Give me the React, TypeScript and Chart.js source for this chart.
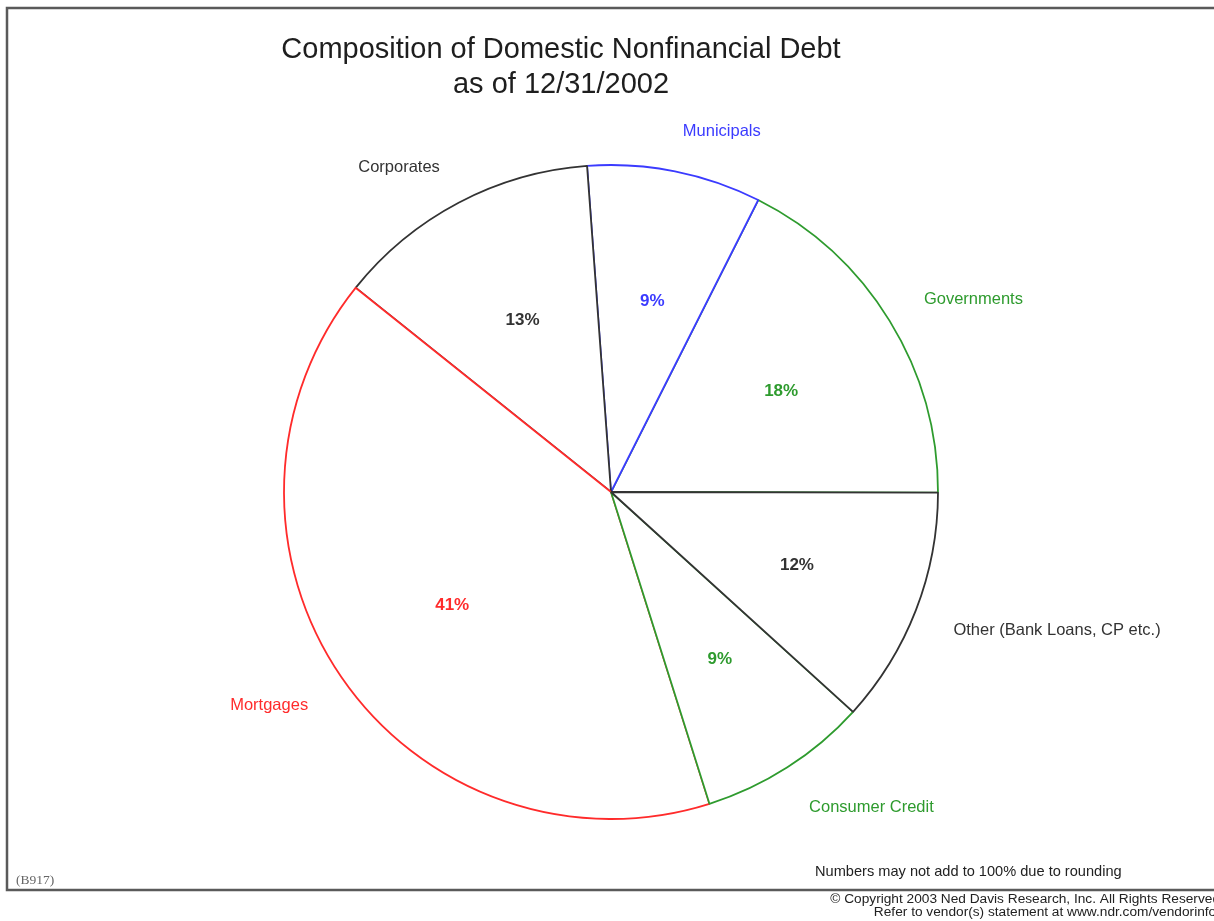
import React, { useEffect, useRef } from 'react';
import { Chart, registerables } from 'chart.js';

Chart.register(...registerables);

// ---- data ----
const categories = [
  'Municipals',
  'Governments',
  'Other (Bank Loans, CP etc.)',
  'Consumer Credit',
  'Mortgages',
  'Corporates',
];
const shares = [8.6, 17.6, 11.7, 8.4, 40.6, 13.1];
const percentLabels = ['9%', '18%', '12%', '9%', '41%', '13%'];
const sliceColors = ['#3b3bff', '#2e9b2e', '#333333', '#2e9b2e', '#ff2b2b', '#333333'];
// order in which slice outlines are painted (later ones sit on top)
const drawOrder = [1, 0, 5, 4, 3, 2];
const titleLines = ['Composition of Domestic Nonfinancial Debt', 'as of 12/31/2002'];
const footnote = 'Numbers may not add to 100% due to rounding';
const chartCode = '(B917)';
const copyrightLines = [
  '\u00A9 Copyright 2003 Ned Davis Research, Inc. All Rights Reserved',
  'Refer to vendor(s) statement at www.ndr.com/vendorinfo/',
];

const SANS = '"Liberation Sans", Arial, Helvetica, sans-serif';
const SERIF = '"Liberation Serif", "Times New Roman", serif';

const ndrPlugin = {
  id: 'ndrDecor',
  beforeDraw(chart: any) {
    const ctx = chart.ctx as CanvasRenderingContext2D;
    ctx.save();
    ctx.fillStyle = '#ffffff';
    ctx.fillRect(0, 0, chart.width, chart.height);
    ctx.strokeStyle = '#5a5a5a';
    ctx.lineWidth = 2.5;
    ctx.strokeRect(7, 8, chart.width + 20, 882);
    ctx.restore();
  },
  beforeDatasetDraw() {
    return false;
  },
  afterDatasetsDraw(chart: any) {
    const ctx = chart.ctx as CanvasRenderingContext2D;
    const meta = chart.getDatasetMeta(0);
    drawOrder.forEach((i) => {
      const el = meta.data[i];
      if (el) el.draw(ctx, chart.chartArea);
    });
    ctx.save();
    ctx.textBaseline = 'middle';
    meta.data.forEach((el: any, i: number) => {
      const { x, y, startAngle, endAngle, outerRadius } = el.getProps(
        ['x', 'y', 'startAngle', 'endAngle', 'outerRadius'],
        true
      );
      const mid = (startAngle + endAngle) / 2;
      const c = Math.cos(mid);
      const s = Math.sin(mid);
      ctx.fillStyle = sliceColors[i];
      // percentage inside
      ctx.font = 'bold 17px ' + SANS;
      ctx.textAlign = 'center';
      ctx.fillText(
        percentLabels[i],
        x + c * outerRadius * 0.6 + 3,
        y + s * outerRadius * 0.6 + 2
      );
      // category outside
      ctx.font = '16.5px ' + SANS;
      ctx.textAlign = c >= 0 ? 'left' : 'right';
      const r = outerRadius * 1.123;
      ctx.fillText(categories[i], x + c * r, y + s * r + (s > 0 ? 6 : 0));
    });
    ctx.restore();
  },
  afterDraw(chart: any) {
    const ctx = chart.ctx as CanvasRenderingContext2D;
    ctx.save();
    ctx.textBaseline = 'middle';
    ctx.fillStyle = '#1e1e1e';
    ctx.textAlign = 'center';
    ctx.font = '29px ' + SANS;
    ctx.fillText(titleLines[0], 561, 50);
    ctx.fillText(titleLines[1], 561, 85);

    ctx.textAlign = 'left';
    ctx.font = '14.6px ' + SANS;
    ctx.fillStyle = '#222222';
    ctx.fillText(footnote, 815, 872);

    ctx.font = '13.5px ' + SERIF;
    ctx.fillStyle = '#666666';
    ctx.fillText(chartCode, 16, 880);

    ctx.textAlign = 'right';
    ctx.font = '13.7px ' + SANS;
    ctx.fillStyle = '#222222';
    ctx.fillText(copyrightLines[0], 1220, 899);
    ctx.fillText(copyrightLines[1], 1220, 912);
    ctx.restore();
  },
};

export default function App() {
  const canvasRef = useRef<HTMLCanvasElement | null>(null);

  useEffect(() => {
    if (!canvasRef.current) return;
    const chart = new Chart(canvasRef.current, {
      type: 'pie',
      data: {
        labels: categories,
        datasets: [
          {
            data: shares,
            backgroundColor: '#ffffff',
            borderColor: sliceColors,
            borderWidth: 1.8,
          },
        ],
      },
      options: {
        responsive: false,
        animation: false,
        rotation: -4.2,
        radius: 327,
        events: [],
        layout: { padding: { left: 108, right: 100, top: 113, bottom: 50 } },
        plugins: {
          legend: { display: false },
          tooltip: { enabled: false },
          title: { display: false },
        },
      } as any,
      plugins: [ndrPlugin as any],
    });
    return () => chart.destroy();
  }, []);

  return (
    <div style={{ position: 'fixed', left: 0, top: 0, width: 1214, height: 921, background: '#fff' }}>
      <canvas ref={canvasRef} width={1214} height={921} style={{ width: 1214, height: 921, display: 'block' }} />
    </div>
  );
}
